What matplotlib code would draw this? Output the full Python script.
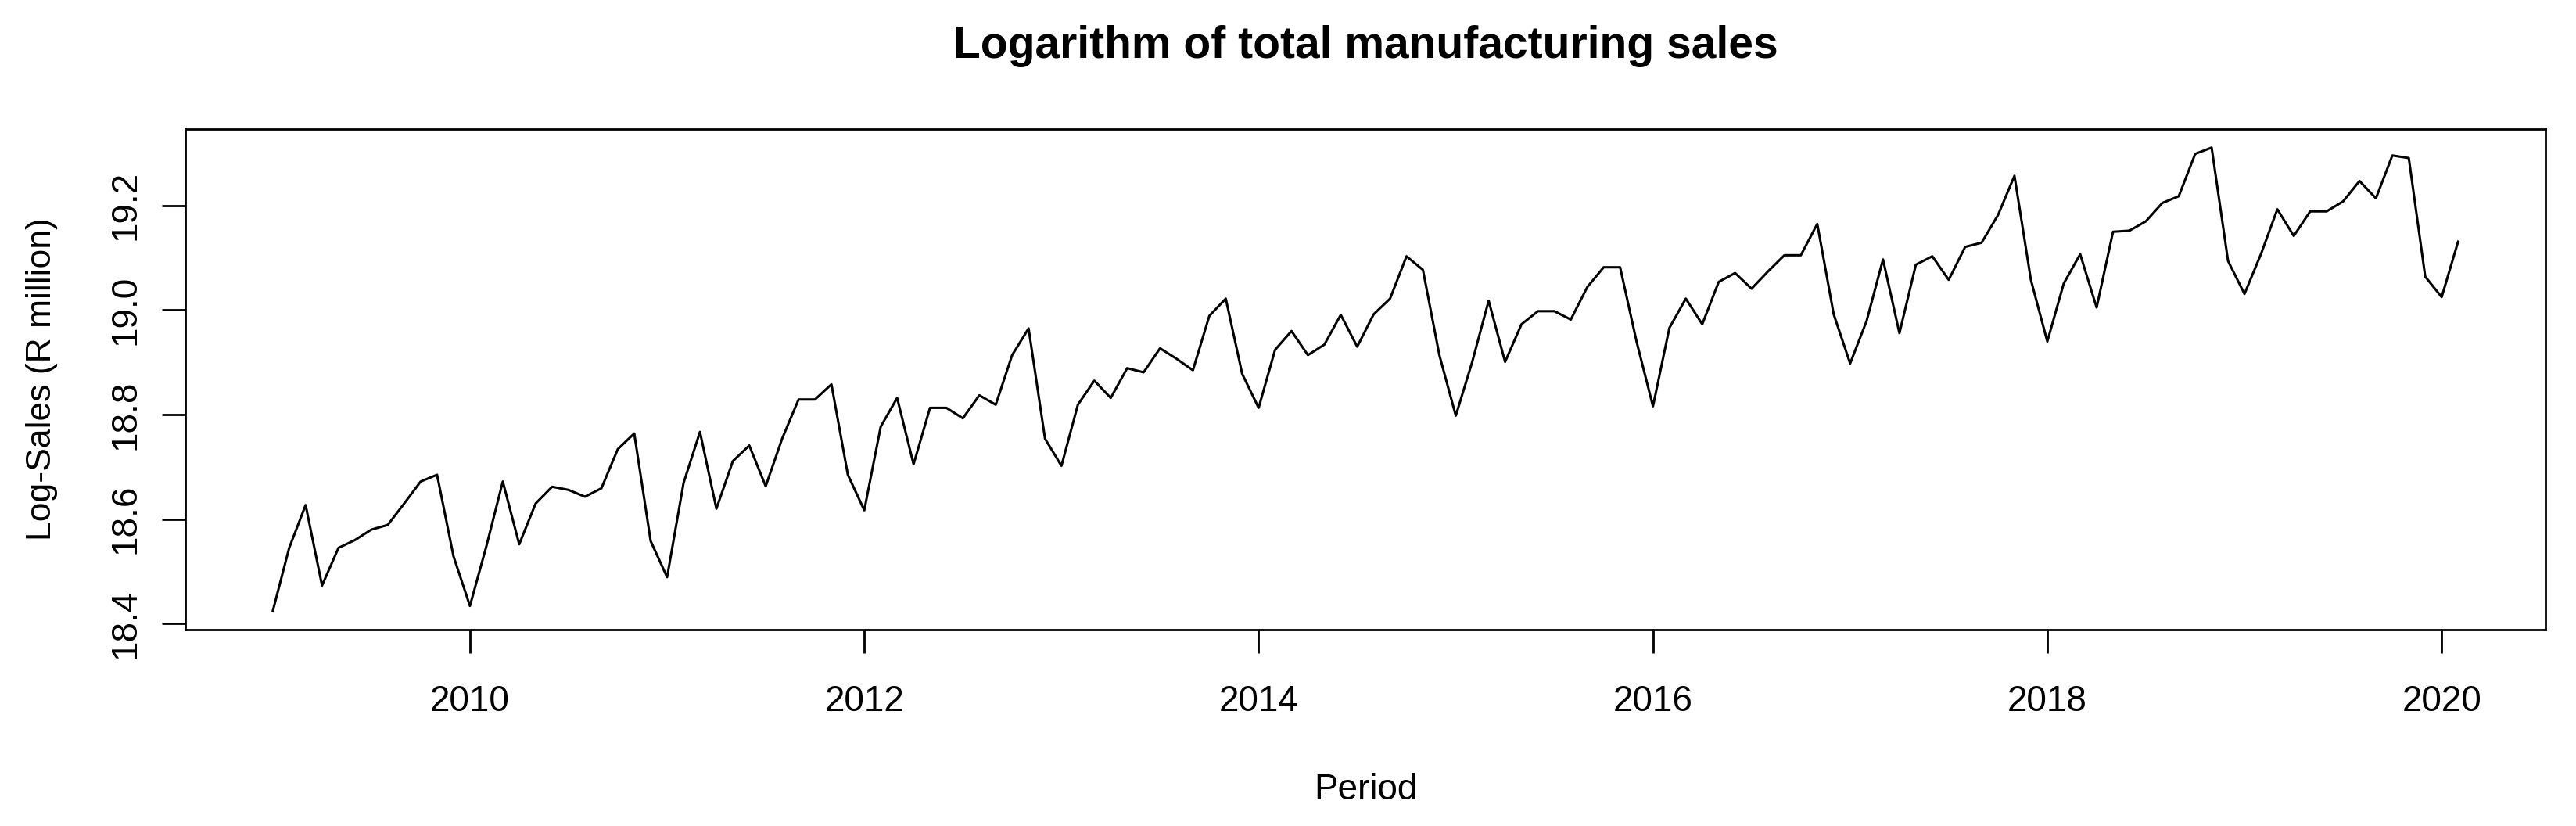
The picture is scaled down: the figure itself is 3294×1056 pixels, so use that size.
"""Logarithm of total manufacturing sales, monthly 2009-01 to 2020-02."""

import matplotlib
matplotlib.use("Agg")
import matplotlib.pyplot as plt
import numpy as np

plt.rcParams["font.family"] = ["Liberation Sans", "DejaVu Sans"]

# monthly log-sales (R million), starting January 2009
start_year = 2009
log_sales = [
  # 2009
  18.424, 18.545, 18.627, 18.473, 18.545, 18.560, 18.580, 18.589, 18.630, 18.672, 18.685, 18.529,
  # 2010
  18.434, 18.548, 18.672, 18.552, 18.630, 18.662, 18.656, 18.643, 18.659, 18.734, 18.764, 18.558,
  # 2011
  18.489, 18.669, 18.767, 18.620, 18.711, 18.741, 18.663, 18.754, 18.829, 18.829, 18.858, 18.685,
  # 2012
  18.617, 18.777, 18.832, 18.705, 18.813, 18.813, 18.793, 18.837, 18.819, 18.914, 18.965, 18.754,
  # 2013
  18.702, 18.819, 18.865, 18.832, 18.889, 18.881, 18.927, 18.907, 18.885, 18.989, 19.022, 18.878,
  # 2014
  18.813, 18.924, 18.960, 18.914, 18.934, 18.991, 18.930, 18.992, 19.022, 19.103, 19.077, 18.914,
  # 2015
  18.798, 18.901, 19.018, 18.901, 18.973, 18.998, 18.998, 18.982, 19.044, 19.082, 19.082, 18.940,
  # 2016
  18.816, 18.966, 19.022, 18.973, 19.054, 19.071, 19.041, 19.074, 19.105, 19.105, 19.165, 18.992,
  # 2017
  18.898, 18.979, 19.097, 18.956, 19.087, 19.103, 19.058, 19.121, 19.129, 19.182, 19.257, 19.058,
  # 2018
  18.940, 19.051, 19.107, 19.005, 19.150, 19.152, 19.170, 19.205, 19.218, 19.299, 19.311, 19.094,
  # 2019
  19.031, 19.107, 19.193, 19.142, 19.189, 19.189, 19.208, 19.247, 19.214, 19.296, 19.291, 19.064,
  # 2020
  19.025, 19.131,
]

x_ticks = [2010, 2012, 2014, 2016, 2018, 2020]
y_ticks = [18.4, 18.6, 18.8, 19.0, 19.2]


def r_range(values, frac=0.04):
  # R extends the axis range by 4% on each side
  lo, hi = min(values), max(values)
  pad = (hi - lo) * frac
  return lo - pad, hi + pad


if __name__ == "__main__":
  period = start_year + np.arange(len(log_sales)) / 12

  fig = plt.figure(figsize=(16.47, 5.28), dpi=200)
  ax = fig.add_axes([0.07195, 0.23769, 0.91621, 0.60606])

  ax.plot(period, log_sales, color="black", linewidth=1.1)

  ax.set_xlim(*r_range(period))
  ax.set_ylim(*r_range(log_sales))

  ax.set_xticks(x_ticks)
  ax.set_xticklabels([str(t) for t in x_ticks])
  ax.set_yticks(y_ticks)
  ax.set_yticklabels([f"{t:.1f}" for t in y_ticks], rotation=90, va="center")

  for spine in ax.spines.values():
    spine.set_linewidth(1.0)
    spine.set_color("black")

  ax.tick_params(axis="both", direction="out", length=10.8, width=1.0, labelsize=16.5, colors="black")
  ax.tick_params(axis="x", pad=14.4)
  ax.tick_params(axis="y", pad=8.8)

  ax.set_xlabel("Period", fontsize=16.5, labelpad=24.7)
  ax.set_ylabel("Log-Sales (R million)", fontsize=16, labelpad=23.4)
  ax.set_title("Logarithm of total manufacturing sales", fontsize=20.5, fontweight="bold", pad=32.8)

  fig.savefig("out.png", dpi=200, facecolor="white")
